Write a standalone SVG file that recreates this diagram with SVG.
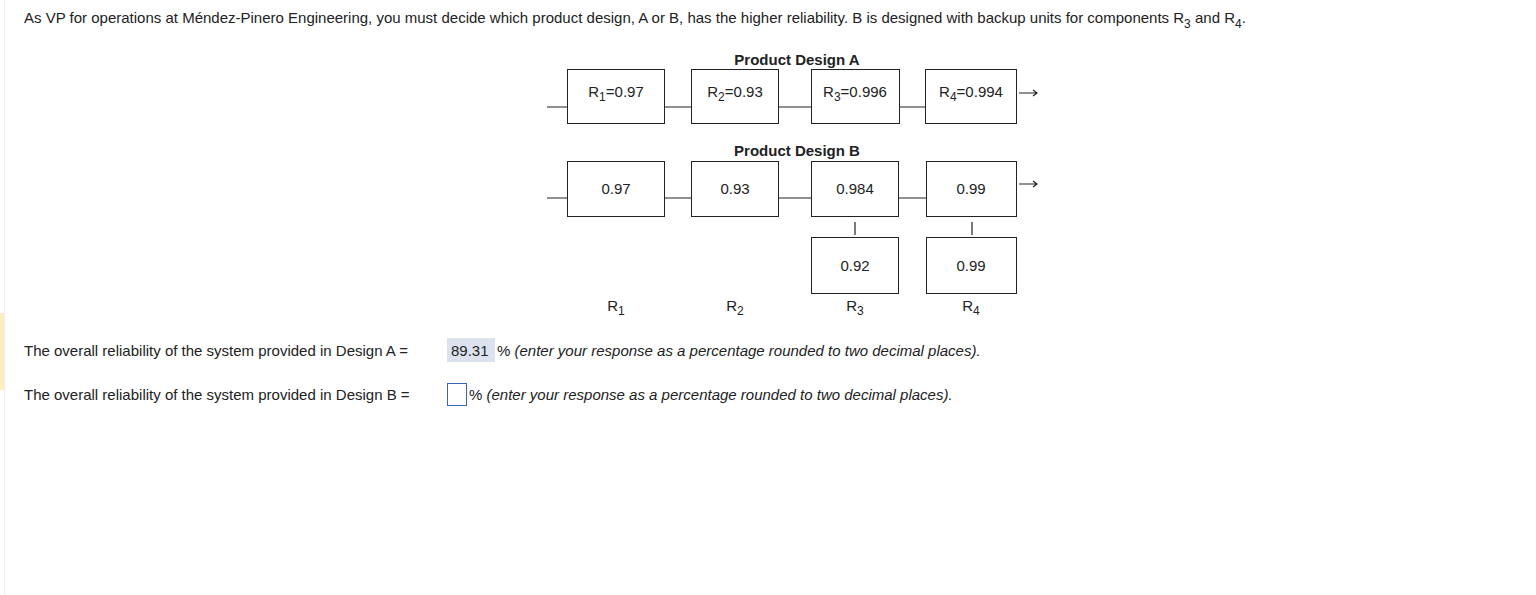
<svg xmlns="http://www.w3.org/2000/svg" width="1536" height="595" viewBox="0 0 1536 595">
<style>
text{font-family:"Liberation Sans",Arial,sans-serif;font-size:15px;fill:#222}
.c{text-anchor:middle}
.b{font-weight:bold}
.box{fill:#fff;stroke:#222;stroke-width:1}
.ln{stroke:#222;stroke-width:1.2;fill:none}
.i{font-style:italic}
</style>
<rect x="0" y="0" width="1536" height="595" fill="#fff"/>
<rect x="0" y="313" width="4" height="77" fill="#fbeec0"/>
<line x1="4.5" y1="0" x2="4.5" y2="595" stroke="#eee"/>
<text x="24" y="23">As VP for operations at Méndez-Pinero Engineering, you must decide which product design, A or B, has the higher reliability. B is designed with backup units for components R<tspan dy="5" font-size="12">3</tspan><tspan dy="-5"> and R</tspan><tspan dy="5" font-size="12">4</tspan><tspan dy="-5">.</tspan></text>
<text class="c b" x="797" y="65">Product Design A</text>
<text class="c b" x="797" y="156">Product Design B</text>
<g id="connectors">
<path class="ln" d="M547 107H567M664 107H691M778 107H811M899 107H925"/>
<path class="ln" d="M547 198H567M664 198H691M778 198H811M898 198H926"/>
<path class="ln" d="M855 222V235M972 222V235"/>
<path class="ln" d="M1019 93H1037M1033 90L1037 93L1033 96"/>
<path class="ln" d="M1019 184H1037M1033 181L1037 184L1033 187"/>
</g>
<g id="a1"><rect class="box" x="567.5" y="69.5" width="97" height="54"/><text class="c" x="616" y="97">R<tspan dy="4" font-size="12">1</tspan><tspan dy="-4">=0.97</tspan></text></g>
<g id="a2"><rect class="box" x="691.5" y="69.5" width="87" height="54"/><text class="c" x="735" y="97">R<tspan dy="4" font-size="12">2</tspan><tspan dy="-4">=0.93</tspan></text></g>
<g id="a3"><rect class="box" x="811.5" y="69.5" width="88" height="54"/><text class="c" x="855" y="97">R<tspan dy="4" font-size="12">3</tspan><tspan dy="-4">=0.996</tspan></text></g>
<g id="a4"><rect class="box" x="925.5" y="69.5" width="91" height="54"/><text class="c" x="971" y="97">R<tspan dy="4" font-size="12">4</tspan><tspan dy="-4">=0.994</tspan></text></g>
<g id="b1"><rect class="box" x="567.5" y="161.5" width="97" height="55"/><text class="c" x="616" y="194">0.97</text></g>
<g id="b2"><rect class="box" x="691.5" y="161.5" width="87" height="55"/><text class="c" x="735" y="194">0.93</text></g>
<g id="b3"><rect class="box" x="811.5" y="161.5" width="87" height="55"/><text class="c" x="855" y="194">0.984</text></g>
<g id="b4"><rect class="box" x="926.5" y="161.5" width="90" height="55"/><text class="c" x="971" y="194">0.99</text></g>
<g id="b3b"><rect class="box" x="811.5" y="237.5" width="87" height="56"/><text class="c" x="855" y="271">0.92</text></g>
<g id="b4b"><rect class="box" x="926.5" y="237.5" width="90" height="56"/><text class="c" x="971" y="271">0.99</text></g>
<text class="c" x="616" y="311">R<tspan dy="4" font-size="12">1</tspan></text>
<text class="c" x="735" y="311">R<tspan dy="4" font-size="12">2</tspan></text>
<text class="c" x="855" y="311">R<tspan dy="4" font-size="12">3</tspan></text>
<text class="c" x="971" y="311">R<tspan dy="4" font-size="12">4</tspan></text>
<rect x="447" y="338" width="48" height="24" fill="#dce3ef"/>
<text x="24" y="356">The overall reliability of the system provided in Design A = </text>
<text x="451" y="356">89.31</text>
<text x="497" y="356">% <tspan class="i">(enter your response as a percentage rounded to two decimal places).</tspan></text>
<text x="24" y="400">The overall reliability of the system provided in Design B =</text>
<rect x="447.5" y="383.5" width="19" height="22" fill="#fff" stroke="#3a64b8"/>
<text x="469" y="400">% <tspan class="i">(enter your response as a percentage rounded to two decimal places).</tspan></text>
</svg>
